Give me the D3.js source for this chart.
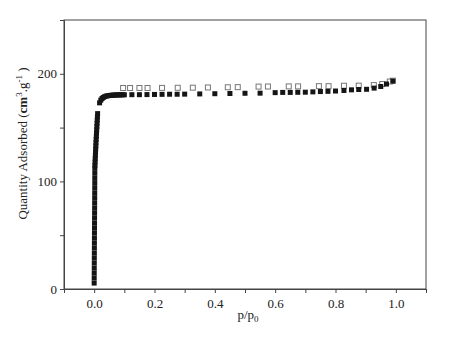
<!DOCTYPE html>
<html>
<head>
<meta charset="utf-8">
<script src="https://cdn.jsdelivr.net/npm/d3@7"></script>
<style>
  body { margin: 0; background: #fff; }
  svg text { font-family: "Liberation Serif", "Times New Roman", serif; fill: #222; }
</style>
</head>
<body>
<div id="chart"></div>
<script>
// adsorption branch (filled squares)
const adsP = [
  0.00002, 0.0001, 0.0002, 0.0003, 0.0004, 0.0005, 0.0006, 0.0007, 0.0008, 0.0009,
  0.001, 0.0011, 0.0012, 0.0013, 0.0014, 0.0015, 0.0016, 0.0017, 0.0018, 0.0019,
  0.002, 0.002, 0.0021, 0.0022,
  0.0025, 0.003, 0.0035, 0.004, 0.0045, 0.005, 0.0055, 0.006, 0.0066, 0.0072,
  0.0078, 0.0084, 0.009, 0.0096, 0.0102, 0.0108, 0.0114,
  0.018, 0.022, 0.026, 0.03, 0.035, 0.04, 0.045, 0.05, 0.055, 0.06, 0.065, 0.07,
  0.075, 0.08, 0.085, 0.09, 0.095, 0.1,
  0.125, 0.15, 0.175, 0.2, 0.225, 0.25, 0.275, 0.3, 0.35, 0.4, 0.45, 0.5, 0.55,
  0.6, 0.625, 0.65, 0.675, 0.7, 0.725, 0.75, 0.775, 0.8, 0.828, 0.853, 0.877,
  0.903, 0.928, 0.95, 0.969, 0.99
];
const adsQ = [
  5.5, 10.2, 14.8, 19.4, 24.1, 28.7, 33.3, 38, 42.6, 47.2,
  51.9, 56.5, 61.1, 65.8, 70.4, 75, 79.7, 84.3, 88.9, 93.6,
  98.2, 102.8, 107.5, 112.1,
  115, 118, 121, 124, 127, 130, 133, 136, 139, 142,
  145, 148, 151, 154, 157, 160, 163,
  173, 175.5, 177, 178, 178.8, 179.3, 179.6, 179.8, 180, 180.1, 180.2, 180.3,
  180.3, 180.4, 180.4, 180.5, 180.5, 180.5,
  180.6, 180.6, 180.7, 180.8, 180.9, 181, 181, 181.1, 181.3, 181.5, 181.7, 181.9, 182,
  182.5, 182.7, 182.7, 182.8, 182.9, 183.2, 183.5, 183.7, 184, 184.5, 185.1, 185.4,
  185.6, 186.7, 188.2, 190.5, 193.2
];

// desorption branch (open squares)
const desP = [
  0.99, 0.98, 0.955, 0.927, 0.877, 0.828, 0.777, 0.745, 0.676, 0.645, 0.576,
  0.545, 0.476, 0.443, 0.377, 0.327, 0.277, 0.225, 0.177, 0.15, 0.119, 0.096
];
const desQ = [
  193.6, 192.8, 190.5, 189.5, 189, 188.9, 188.5, 188.5, 188.3, 188.3, 188.2,
  188.1, 187.6, 187.5, 187.3, 187.1, 187, 186.9, 186.8, 186.8, 186.8, 186.8
];

const xTicks = [-0.1, 0, 0.1, 0.2, 0.3, 0.4, 0.5, 0.6, 0.7, 0.8, 0.9, 1.0, 1.1];
const xLabels = [0, 0.2, 0.4, 0.6, 0.8, 1.0];
const yTicks = [0, 50, 100, 150, 200, 250];
const yLabels = [0, 100, 200];

const width = 462, height = 338;
const margin = { top: 20, right: 36, bottom: 49, left: 64 };

const svg = d3.select("#chart").append("svg")
  .attr("width", width)
  .attr("height", height);

const x = d3.scaleLinear().domain([-0.1, 1.1]).range([margin.left, width - margin.right]);
const y = d3.scaleLinear().domain([0, 250]).range([height - margin.bottom, margin.top]);

// frame
svg.append("rect")
  .attr("x", x(-0.1)).attr("y", y(250))
  .attr("width", x(1.1) - x(-0.1))
  .attr("height", y(0) - y(250))
  .attr("fill", "none")
  .attr("stroke", "#444")
  .attr("stroke-width", 1);

//BEGIN: AXES
const xAxis = d3.axisBottom(x)
  .tickValues(xTicks)
  .tickSize(4)
  .tickFormat(d => xLabels.some(v => Math.abs(v - d) < 1e-9) ? d3.format(".1f")(d) : "");
const gx = svg.append("g")
  .attr("transform", `translate(0,${y(0)})`)
  .call(xAxis);
gx.select(".domain").attr("stroke", "#444");
gx.selectAll(".tick line").attr("stroke", "#444");
gx.selectAll(".tick text")
  .attr("font-size", 13)
  .attr("dy", "0.95em");

const yAxis = d3.axisLeft(y)
  .tickValues(yTicks)
  .tickSize(4)
  .tickFormat(d => yLabels.includes(d) ? d : "");
const gy = svg.append("g")
  .attr("transform", `translate(${x(-0.1)},0)`)
  .call(yAxis);
gy.select(".domain").attr("stroke", "#444");
gy.selectAll(".tick line").attr("stroke", "#444");
gy.selectAll(".tick text")
  .attr("font-size", 13)
  .attr("x", -7);
//END: AXES

// axis titles
const xt = svg.append("text")
  .attr("x", (x(-0.1) + x(1.1)) / 2 + 3)
  .attr("y", 319)
  .attr("text-anchor", "middle")
  .attr("font-size", 13);
xt.append("tspan").text("p/p");
xt.append("tspan").attr("font-size", 9).attr("dy", 3).text("0");

const yt = svg.append("text")
  .attr("transform", `translate(27,${(y(0) + y(250)) / 2 - 11}) rotate(-90)`)
  .attr("text-anchor", "middle")
  .attr("font-size", 13);
yt.append("tspan").text("Quantity Adsorbed (");
yt.append("tspan").attr("font-weight", "bold").text("cm");
yt.append("tspan").attr("font-size", 9).attr("dy", -5).text("3");
yt.append("tspan").attr("dy", 5).text(".g");
yt.append("tspan").attr("font-size", 9).attr("dy", -5).text("-1");
yt.append("tspan").attr("dy", 5).text(" )");

//BEGIN: MARKS
const size = 5;
const ads = adsP.map((p, i) => ({ p: p, q: adsQ[i] }));
const des = desP.map((p, i) => ({ p: p, q: desQ[i] }));

svg.append("g").selectAll("rect")
  .data(des)
  .join("rect")
  .attr("x", d => x(d.p) - size / 2)
  .attr("y", d => y(d.q) - size / 2)
  .attr("width", size)
  .attr("height", size)
  .attr("fill", "#fff")
  .attr("stroke", "#777")
  .attr("stroke-width", 1);

svg.append("g").selectAll("rect")
  .data(ads)
  .join("rect")
  .attr("x", d => x(d.p) - size / 2)
  .attr("y", d => y(d.q) - size / 2)
  .attr("width", size)
  .attr("height", size)
  .attr("fill", "#151515");
//END: MARKS
</script>
</body>
</html>
